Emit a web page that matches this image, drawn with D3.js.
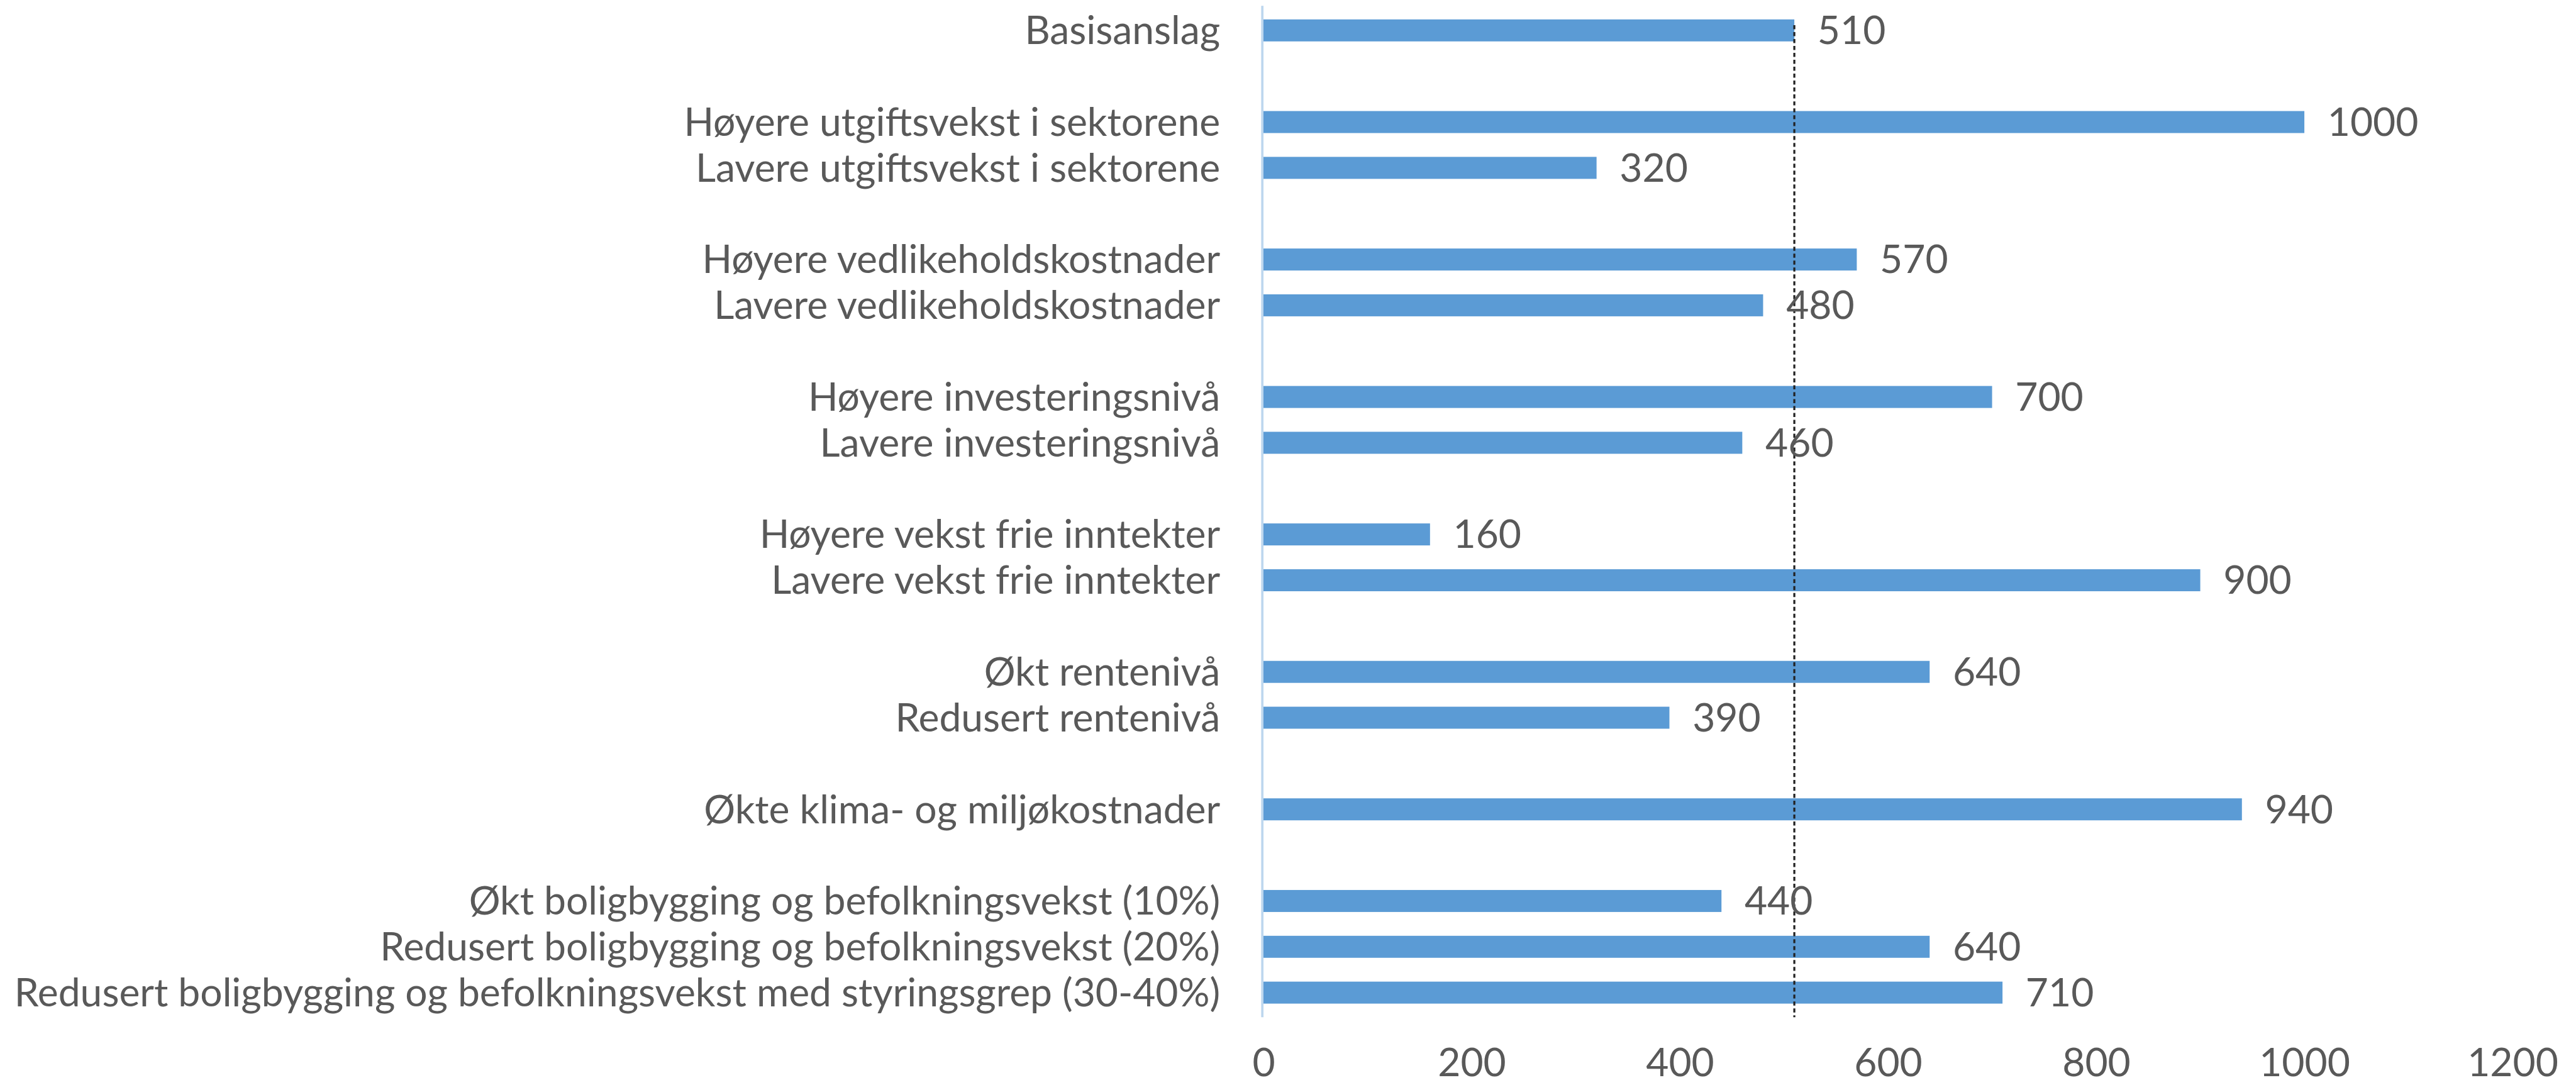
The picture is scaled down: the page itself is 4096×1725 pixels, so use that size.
<!DOCTYPE html>
<html>
<head>
<meta charset="UTF-8">
<title>Basisanslag og alternative forløp</title>
<script src="https://d3js.org/d3.v7.min.js"></script>
<style>
  body { margin: 0; background: #fff; }
  text { font-family: Lato, "Open Sans", sans-serif; fill: #595959; }
</style>
</head>
<body>
<svg width="4096" height="1725"></svg>
<script>
// null = empty slot between groups
var categories = [
  "Basisanslag", null,
  "Høyere utgiftsvekst i sektorene", "Lavere utgiftsvekst i sektorene", null,
  "Høyere vedlikeholdskostnader", "Lavere vedlikeholdskostnader", null,
  "Høyere investeringsnivå", "Lavere investeringsnivå", null,
  "Høyere vekst frie inntekter", "Lavere vekst frie inntekter", null,
  "Økt rentenivå", "Redusert rentenivå", null,
  "Økte klima- og miljøkostnader", null,
  "Økt boligbygging og befolkningsvekst (10%)",
  "Redusert boligbygging og befolkningsvekst (20%)",
  "Redusert boligbygging og befolkningsvekst med styringsgrep (30-40%)"
];
var values = [
  510, null,
  1000, 320, null,
  570, 480, null,
  700, 460, null,
  160, 900, null,
  640, 390, null,
  940, null,
  440, 640, 710
];
var baseline = 510;
var xTicks = [0, 200, 400, 600, 800, 1000, 1200];

// drawn in reference pixels, then scaled to the window
var k = 4096 / 4465;
var svg = d3.select("svg");
var g = svg.append("g").attr("transform", "scale(" + k + ")");

var x = d3.scaleLinear().domain([0, 1200]).range([2190, 4355]);
var y = d3.scaleBand()
    .domain(d3.range(categories.length))
    .range([13, 1760])
    .paddingInner(0.52)
    .paddingOuter(0.26);

var rows = categories.map(function(c, i) { return { label: c, value: values[i], i: i }; })
  .filter(function(d) { return d.label !== null; });

// axis line
g.append("line")
    .attr("x1", x(0) - 2).attr("x2", x(0) - 2)
    .attr("y1", 10).attr("y2", 1763)
    .attr("stroke", "#bdd7ee")
    .attr("stroke-width", 4);

g.selectAll("rect.bar")
  .data(rows)
  .enter().append("rect")
    .attr("class", "bar")
    .attr("x", x(0))
    .attr("y", function(d) { return y(d.i); })
    .attr("width", function(d) { return x(d.value) - x(0); })
    .attr("height", y.bandwidth())
    .attr("fill", "#5b9bd5");

// category labels
g.selectAll("text.cat")
  .data(rows)
  .enter().append("text")
    .attr("class", "cat")
    .attr("x", 2115)
    .attr("y", function(d) { return y(d.i) + y.bandwidth() / 2; })
    .attr("dy", "0.35em")
    .attr("text-anchor", "end")
    .attr("font-size", 68)
    .text(function(d) { return d.label; });

// dotted reference line at basisanslag
g.append("line")
    .attr("x1", x(baseline)).attr("x2", x(baseline))
    .attr("y1", y(0) + 10).attr("y2", 1763)
    .attr("stroke", "#222")
    .attr("stroke-width", 3.5)
    .attr("stroke-dasharray", "7,5");

// value labels
g.selectAll("text.val")
  .data(rows)
  .enter().append("text")
    .attr("class", "val")
    .attr("x", function(d) { return x(d.value) + 40; })
    .attr("y", function(d) { return y(d.i) + y.bandwidth() / 2; })
    .attr("dy", "0.35em")
    .attr("font-size", 68)
    .text(function(d) { return d.value; });

// x axis labels
var ax = g.append("g")
    .attr("transform", "translate(0,1765)")
    .call(d3.axisBottom(x).tickValues(xTicks).tickFormat(d3.format("d")).tickSize(0).tickPadding(52));
ax.select(".domain").remove();
ax.selectAll("text")
    .attr("font-size", 68)
    .attr("font-family", "Lato, 'Open Sans', sans-serif")
    .attr("fill", "#595959");
</script>
</body>
</html>
